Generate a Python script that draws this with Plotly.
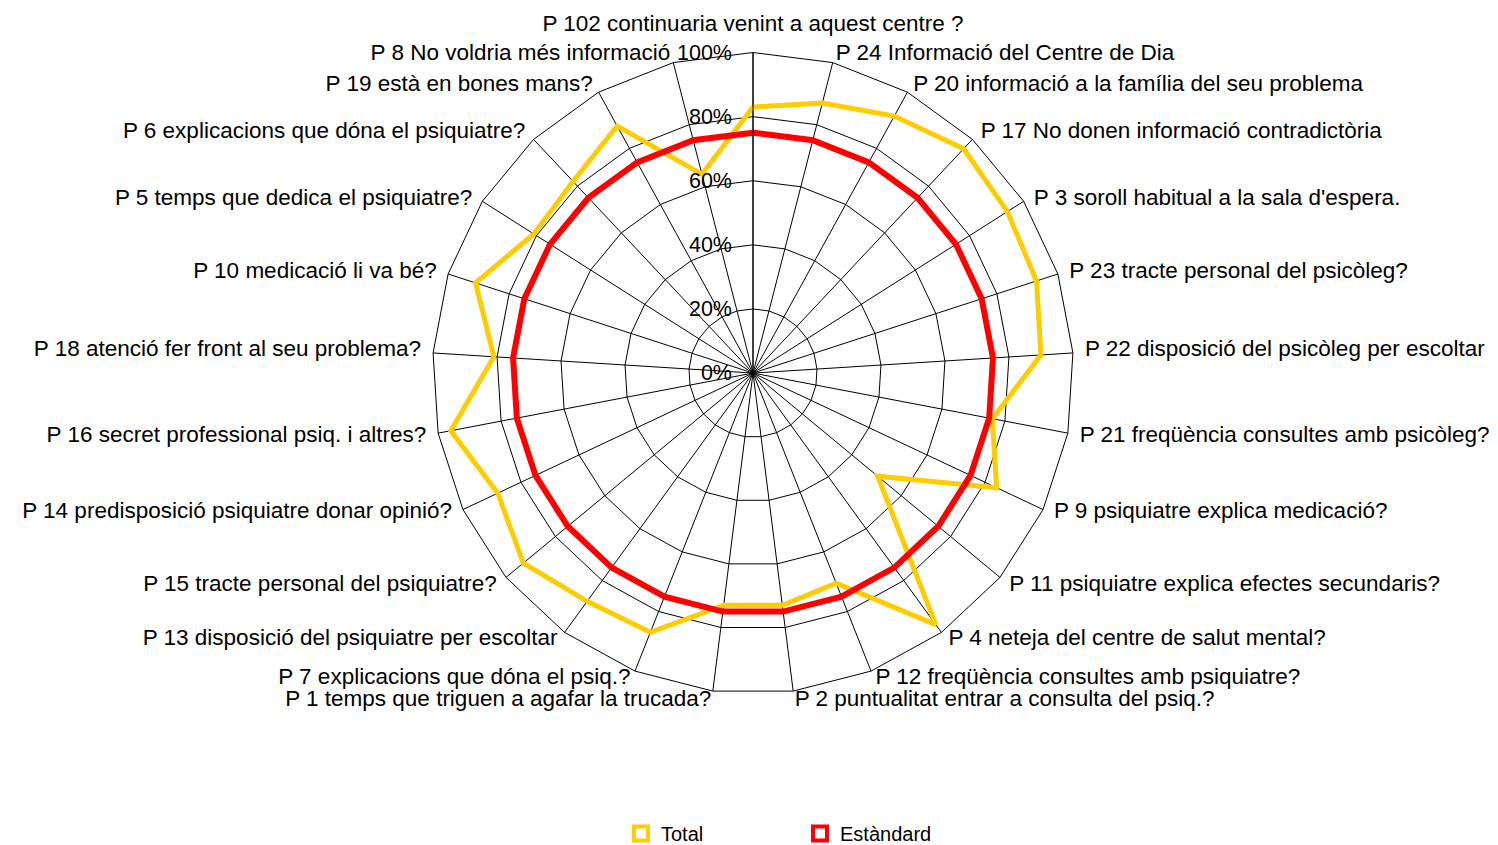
import plotly.graph_objects as go

categories = [
    "P 102 continuaria venint a aquest centre ?",
    "P 24 Informació del Centre de Dia",
    "P 20 informació a la família del seu problema",
    "P 17 No donen informació contradictòria",
    "P 3 soroll habitual a la sala d'espera.",
    "P 23 tracte personal del psicòleg?",
    "P 22 disposició del psicòleg per escoltar",
    "P 21 freqüència consultes amb psicòleg?",
    "P 9 psiquiatre explica medicació?",
    "P 11 psiquiatre explica efectes secundaris?",
    "P 4 neteja del centre de salut mental?",
    "P 12 freqüència consultes amb psiquiatre?",
    "P 2 puntualitat entrar a consulta del psiq.?",
    "P 1 temps que triguen a agafar la trucada?",
    "P 7 explicacions que dóna el psiq.?",
    "P 13 disposició del psiquiatre per escoltar",
    "P 15 tracte personal del psiquiatre?",
    "P 14 predisposició psiquiatre donar opinió?",
    "P 16 secret professional psiq. i altres?",
    "P 18 atenció fer front al seu problema?",
    "P 10 medicació li va bé?",
    "P 5 temps que dedica el psiquiatre?",
    "P 6 explicacions que dóna el psiquiatre?",
    "P 19 està en bones mans?",
    "P 8 No voldria més informació",
]

total = [83, 87, 91.5, 96, 94, 93, 90, 76, 84, 50.5, 97, 70.5, 73,
         73, 87, 88, 93, 88, 96, 81, 91, 81, 82, 88, 64]
estandard = [75, 75, 75, 75, 75, 75, 75, 75, 75, 75, 75, 75, 75,
             75, 75, 75, 75, 75, 75, 75, 75, 75, 75, 75, 75]

radial_ticks = [0, 20, 40, 60, 80, 100]
radial_ticklabels = ["0%", "20%", "40%", "60%", "80%", "100%"]

# label styling: vertical nudge (px, positive = up) of each category label
label_nudge = [5, -11, -9, -5, -6, -2, 4, 5, 13, 14, 20, 22, 20,
               20, 22, 20, 14, 13, 5, 4, -2, -6, -5, -9, -11]

YELLOW = "#FFCC00"
RED = "#FF0000"
FONT = "Liberation Sans, Arial, sans-serif"

theta_closed = categories + categories[:1]
tick_text = [f"<span style='baseline-shift:{n}px'>{c}</span>"
             for c, n in zip(categories, label_nudge)]

fig = go.Figure()
fig.add_trace(go.Scatterpolar(
    r=total + total[:1], theta=theta_closed, mode="lines",
    line=dict(color=YELLOW, width=5), showlegend=False, name="Total"))
fig.add_trace(go.Scatterpolar(
    r=estandard + estandard[:1], theta=theta_closed, mode="lines",
    line=dict(color=RED, width=6), showlegend=False, name="Estàndard"))

# legend-only entries (square outline symbols)
for name, col in [("Total", YELLOW), ("Estàndard", RED)]:
    fig.add_trace(go.Scatterpolar(
        r=[None], theta=[categories[0]], mode="markers", name=name,
        marker=dict(symbol="square-open", size=14, color=col,
                    line=dict(color=col, width=4))))

CX, CY, HR = 745, 476, 324  # polar domain centre (px from left / bottom) and half size

fig.update_layout(
    width=1498, height=845,
    margin=dict(l=0, r=0, t=0, b=0),
    paper_bgcolor="white",
    font=dict(family=FONT, size=22.5, color="black"),
    polar=dict(
        domain=dict(x=[(CX - HR) / 1498, (CX + HR) / 1498],
                    y=[(CY - HR) / 845, (CY + HR) / 845]),
        bgcolor="white",
        gridshape="linear",
        angularaxis=dict(
            type="category", categoryorder="array", categoryarray=categories,
            direction="clockwise", rotation=90,
            tickmode="array", tickvals=categories, ticktext=tick_text,
            showgrid=True, gridcolor="black", gridwidth=1,
            showline=True, linecolor="black", linewidth=1,
            ticks="outside", ticklen=7, tickcolor="rgba(0,0,0,0)",
            tickfont=dict(family=FONT, size=22.5, color="black"),
        ),
        radialaxis=dict(
            range=[0, 100], angle=90, side="counterclockwise",
            tickvals=radial_ticks, ticktext=radial_ticklabels,
            tickangle=90,
            showgrid=True, gridcolor="black", gridwidth=1,
            showline=True, linecolor="black", linewidth=1,
            ticks="outside", ticklen=13, tickcolor="rgba(0,0,0,0)",
            tickfont=dict(family=FONT, size=21.5, color="black"),
        ),
    ),
    showlegend=True,
    legend=dict(orientation="h", x=613 / 1498, xanchor="left", y=0.012,
                yanchor="middle", entrywidth=134,
                font=dict(family=FONT, size=20, color="black"),
                bgcolor="rgba(0,0,0,0)"),
)

fig.write_html("out.html")
